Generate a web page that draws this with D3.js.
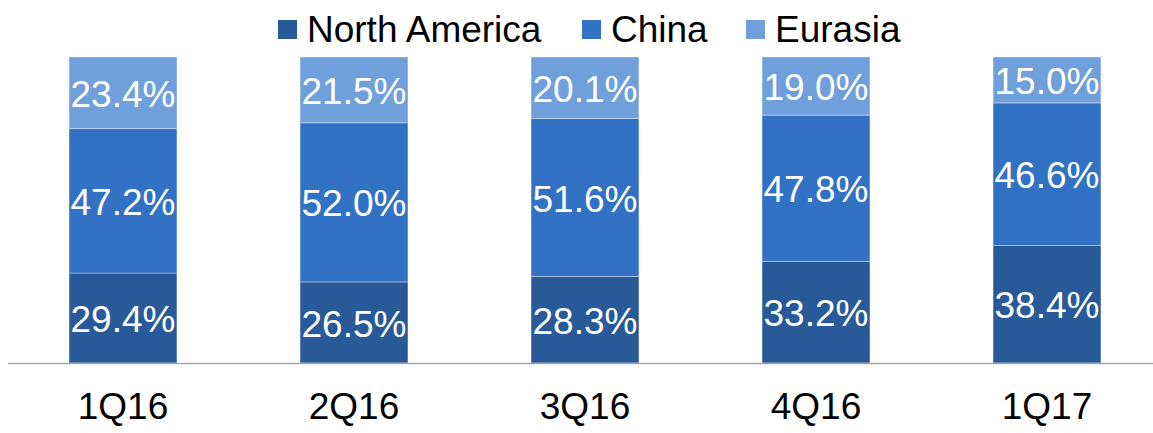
<!DOCTYPE html>
<html><head><meta charset="utf-8">
<script src="https://cdn.jsdelivr.net/npm/d3@7"></script>
<style>html,body{margin:0;padding:0;background:#fff;}svg{display:block;}</style>
</head><body>
<div id="chart"></div>
<script>
const categories = ["1Q16","2Q16","3Q16","4Q16","1Q17"];
const seriesNames = ["North America","China","Eurasia"];
const northAmerica = [29.4,26.5,28.3,33.2,38.4];
const china = [47.2,52.0,51.6,47.8,46.6];
const eurasia = [23.4,21.5,20.1,19.0,15.0];
const colors = ["#285a9a","#3272c4","#6fa0dc"];

const W = 1153, H = 433;
const svg = d3.select("#chart").append("svg").attr("width",W).attr("height",H);
const font = "'Liberation Sans', Arial, sans-serif";

const rows = categories.map((c,i)=>({cat:c,"North America":northAmerica[i],"China":china[i],"Eurasia":eurasia[i]}));
const stack = d3.stack().keys(seriesNames)(rows);

const x = d3.scaleBand().domain(categories).range([7.5,1162.5]).paddingInner(0.533).paddingOuter(0.2665);
const y = d3.scaleLinear().domain([0,100]).range([363,57]);

const g = svg.append("g");
stack.forEach((s,si)=>{
  const grp = g.append("g");
  grp.selectAll("rect").data(s).join("rect")
    .attr("x",d=>x(d.data.cat))
    .attr("width",x.bandwidth())
    .attr("y",d=>y(d[1]))
    .attr("height",d=>y(d[0])-y(d[1]))
    .attr("fill",colors[si])
    .attr("stroke","rgba(255,255,255,0.35)")
    .attr("stroke-width",1);
  grp.selectAll("text").data(s).join("text")
    .attr("x",d=>x(d.data.cat)+x.bandwidth()/2)
    .attr("y",d=>(y(d[0])+y(d[1]))/2)
    .attr("dy","0.38em")
    .attr("text-anchor","middle")
    .attr("fill","#fff")
    .attr("font-family",font)
    .attr("font-size",37)
    .text(d=>(d[1]-d[0]).toFixed(1)+"%");
});

// axis
const axis = d3.axisBottom(x).tickSize(0).tickPadding(30);
const ag = svg.append("g").attr("transform","translate(0,363)").call(axis);
ag.select(".domain").attr("stroke","#a6a6a6").attr("stroke-width",1.5);
ag.selectAll("text").attr("font-family",font).attr("font-size",37).attr("fill","#000");

// legend
const legendX = [278,582,746];
const lg = svg.append("g");
seriesNames.forEach((n,i)=>{
  lg.append("rect").attr("x",legendX[i]).attr("y",20).attr("width",19).attr("height",19).attr("fill",colors[i]);
  lg.append("text").attr("x",legendX[i]+29).attr("y",42).attr("font-family",font).attr("font-size",37).attr("fill","#000").text(n);
});
</script>
</body></html>
